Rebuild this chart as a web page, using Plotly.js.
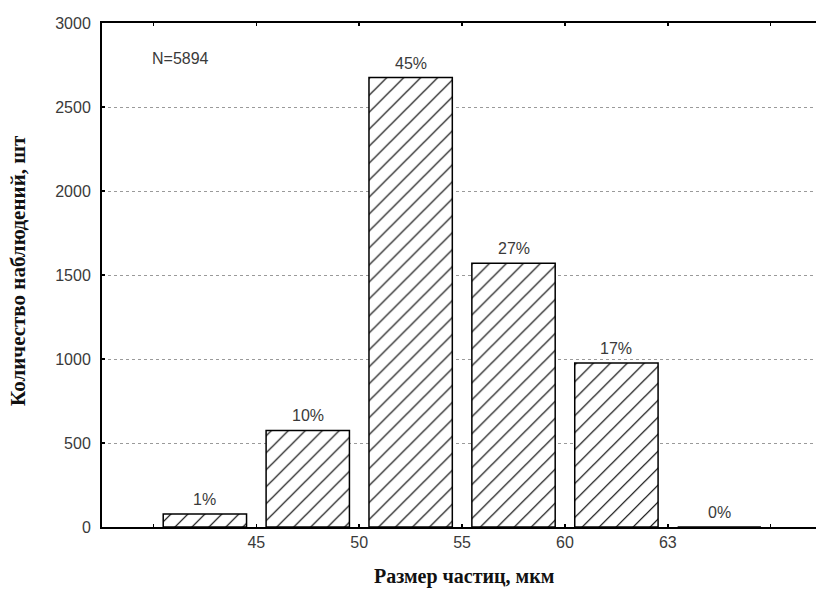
<!DOCTYPE html>
<html>
<head>
<meta charset="utf-8">
<script src="https://cdn.plot.ly/plotly-3.0.1.min.js"></script>
<style>html,body{margin:0;padding:0;background:#fff;}#chart{width:816px;height:589px;}</style>
</head>
<body>
<div id="chart"></div>
<script>
// Data
const binLabels = ["<45", "45–50", "50–55", "55–60", "60–63", ">63"];
const counts = [78, 575, 2675, 1570, 976, 0];
const percentLabels = ["1%", "10%", "45%", "27%", "17%", "0%"];
const tickLabels = ["", "45", "50", "55", "60", "63", ""];
const totalLabel = "N=5894";

const xPos = binLabels.map((_, i) => i + 0.5);
const tickPos = tickLabels.map((_, i) => i);

const trace = {
  type: 'bar',
  x: xPos,
  y: counts,
  width: 0.81,
  text: binLabels,
  textposition: 'none',
  hoverinfo: 'text+y',
  marker: {
    color: 'white',
    line: {color: 'black', width: 1.5},
    pattern: {shape: '/', fgcolor: 'black', bgcolor: 'white', size: 12, solidity: 0.1}
  }
};

const annotations = xPos.map((x, i) => ({
  x: x, y: counts[i], xref: 'x', yref: 'y',
  text: percentLabels[i], showarrow: false,
  yanchor: 'bottom', yshift: 4,
  font: {family: 'Liberation Sans, Arial, sans-serif', size: 16, color: '#3a3a3a'}
}));
annotations.push({
  x: 0.067, y: 0.929, xref: 'paper', yref: 'paper', xanchor: 'left', yanchor: 'middle',
  text: totalLabel, showarrow: false,
  font: {family: 'Liberation Sans, Arial, sans-serif', size: 16, color: '#3a3a3a'}
});
annotations.push({
  x: 0.507, y: -0.098, xref: 'paper', yref: 'paper', xanchor: 'center', yanchor: 'middle',
  text: '<b>Размер частиц, мкм</b>', showarrow: false,
  font: {family: 'Liberation Serif, Times New Roman, serif', size: 20, color: '#111'}
});
annotations.push({
  x: -0.1176, y: 0.508, xref: 'paper', yref: 'paper', xanchor: 'center', yanchor: 'middle',
  text: '<b>Количество наблюдений, шт</b>', showarrow: false, textangle: -90,
  font: {family: 'Liberation Serif, Times New Roman, serif', size: 21, color: '#111'}
});

const layout = {
  width: 816, height: 589,
  margin: {l: 102, r: 0, t: 23, b: 62},
  paper_bgcolor: 'white', plot_bgcolor: 'white',
  showlegend: false,
  font: {family: 'Liberation Sans, Arial, sans-serif', size: 16, color: '#3a3a3a'},
  xaxis: {
    range: [-0.5, 6.44],
    tickmode: 'array', tickvals: tickPos, ticktext: tickLabels,
    ticks: 'inside', ticklen: 3, tickwidth: 1.5, tickcolor: 'black',
    showline: true, linecolor: 'black', linewidth: 2, mirror: 'ticks',
    showgrid: false, zeroline: false, fixedrange: true
  },
  yaxis: {
    range: [0, 3000],
    tickvals: [0, 500, 1000, 1500, 2000, 2500, 3000],
    ticks: 'inside', ticklen: 3, tickwidth: 1.5, tickcolor: 'black',
    showline: true, linecolor: 'black', linewidth: 2,
    showgrid: true, gridcolor: '#9a9a9a', gridwidth: 1, griddash: 'dot',
    zeroline: false, fixedrange: true, ticklabelstandoff: 6
  },
  annotations: annotations
};

Plotly.newPlot('chart', [trace], layout, {displayModeBar: false, staticPlot: true});
</script>
</body>
</html>
